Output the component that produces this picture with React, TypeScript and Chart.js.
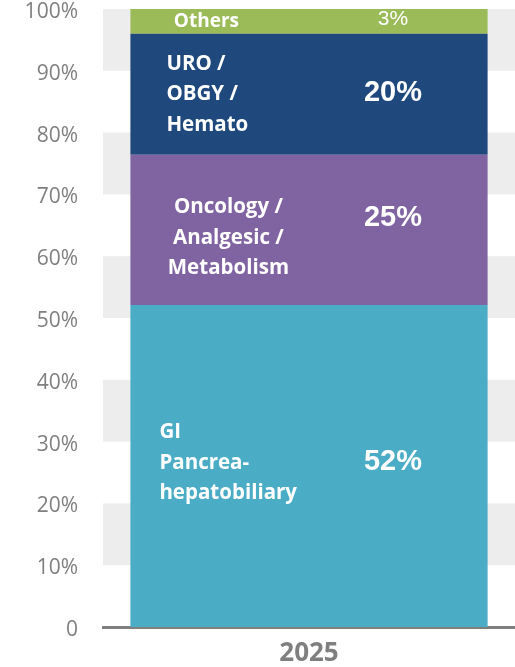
import React, { useEffect, useRef } from "react";
import { Chart, registerables } from "chart.js";

Chart.register(...registerables);

const categories = ["2025"];
const segmentNames = ["GI Pancrea-hepatobiliary", "Oncology / Analgesic / Metabolism", "URO / OBGY / Hemato", "Others"];
const segmentLines = [
  ["GI", "Pancrea-", "hepatobiliary"],
  ["Oncology /", "Analgesic /", "Metabolism"],
  ["URO /", "OBGY /", "Hemato"],
  ["Others"],
];
const segmentValues = [52.1, 24.3, 19.6, 4.0];
const segmentLabels = ["52%", "25%", "20%", "3%"];
const segmentColors = ["#4BACC6", "#8064A2", "#1F497D", "#9BBB59"];
const yTickLabels = ["0", "10%", "20%", "30%", "40%", "50%", "60%", "70%", "80%", "90%", "100%"];

// label styling per segment
const nameStyle = [
  { dx: 29, align: "left", dy: -3, size: 20.5 },
  { dx: 98, align: "center", dy: 8, size: 20.5 },
  { dx: 36, align: "left", dy: 0, size: 20.5 },
  { dx: 76, align: "center", dy: 0, size: 19 },
];
const pctStyle = [
  { dy: -4, font: "bold 29px 'Liberation Sans', Arial, sans-serif" },
  { dy: -12, font: "bold 29px 'Liberation Sans', Arial, sans-serif" },
  { dy: -1, font: "bold 29px 'Liberation Sans', Arial, sans-serif" },
  { dy: -2, font: "21px 'Liberation Sans', Arial, sans-serif" },
];

const bandsPlugin = {
  id: "bands",
  beforeDatasetsDraw(chart: any) {
    const { ctx, chartArea, scales } = chart;
    const y = scales.y;
    ctx.save();
    ctx.fillStyle = "#EDEDED";
    for (let i = 1; i < 10; i += 2) {
      const top = y.getPixelForValue((i + 1) * 10);
      const bot = y.getPixelForValue(i * 10);
      ctx.fillRect(chartArea.left, top, chartArea.right - chartArea.left, bot - top);
    }
    ctx.restore();
  },
};

const labelsPlugin = {
  id: "segLabels",
  afterDatasetsDraw(chart: any) {
    const { ctx } = chart;
    ctx.save();
    ctx.fillStyle = "#FFFFFF";
    ctx.textBaseline = "middle";
    chart.data.datasets.forEach((ds: any, i: number) => {
      const el = chart.getDatasetMeta(i).data[0];
      if (!el) return;
      const left = el.x - el.width / 2;
      const cy = (el.y + el.base) / 2;
      const lines = segmentLines[i];
      const ns = nameStyle[i];
      const lh = 30.5;
      ctx.font = `bold ${ns.size}px 'Open Sans', sans-serif`;
      ctx.textAlign = ns.align;
      lines.forEach((ln, k) => {
        const yy = cy + ns.dy + (k - (lines.length - 1) / 2) * lh;
        ctx.fillText(ln, left + ns.dx, yy);
      });
      ctx.textAlign = "center";
      ctx.font = pctStyle[i].font;
      ctx.fillText(segmentLabels[i], el.x + 84, cy + pctStyle[i].dy);
    });
    ctx.restore();
  },
};

export default function App() {
  const ref = useRef<HTMLCanvasElement | null>(null);
  useEffect(() => {
    if (!ref.current) return;
    const chart = new Chart(ref.current, {
      type: "bar",
      data: {
        labels: categories,
        datasets: segmentValues.map((v, i) => ({
          label: segmentNames[i],
          data: [v],
          backgroundColor: segmentColors[i],
          borderWidth: 0,
          barPercentage: 1,
          categoryPercentage: 0.867,
        })),
      },
      options: {
        animation: false,
        responsive: false,
        maintainAspectRatio: false,
        layout: { padding: { top: 9, left: 0, right: 0, bottom: 0 } },
        plugins: { legend: { display: false }, tooltip: { enabled: false } },
        scales: {
          x: {
            stacked: true,
            grid: { display: false, drawTicks: false },
            border: { display: true, color: "#7F7F7F", width: 3 },
            ticks: {
              color: "#7F7F7F",
              padding: 11,
              font: { family: "'Open Sans', sans-serif", size: 26, weight: "bold" },
            },
            afterFit(scale: any) {
              scale.height = 40;
              scale.paddingLeft = 0;
              scale.paddingRight = 0;
            },
          },
          y: {
            stacked: true,
            min: 0,
            max: 100,
            grid: { display: false, drawTicks: false },
            border: { display: false },
            ticks: {
              stepSize: 10,
              padding: 25,
              labelOffset: 3,
              color: "#7F7F7F",
              font: { family: "'Open Sans', sans-serif", size: 21 },
              callback: (_v: any, idx: number) => yTickLabels[idx],
            },
            afterFit(scale: any) {
              scale.width = 103;
              scale.paddingTop = 0;
              scale.paddingBottom = 0;
            },
          },
        },
      } as any,
      plugins: [bandsPlugin, labelsPlugin],
    });
    return () => chart.destroy();
  }, []);
  return (
    <div style={{ position: "absolute", left: 0, top: 0, width: 515, height: 667 }}>
      <canvas ref={ref} width={515} height={667} style={{ width: 515, height: 667, display: "block" }} />
    </div>
  );
}
